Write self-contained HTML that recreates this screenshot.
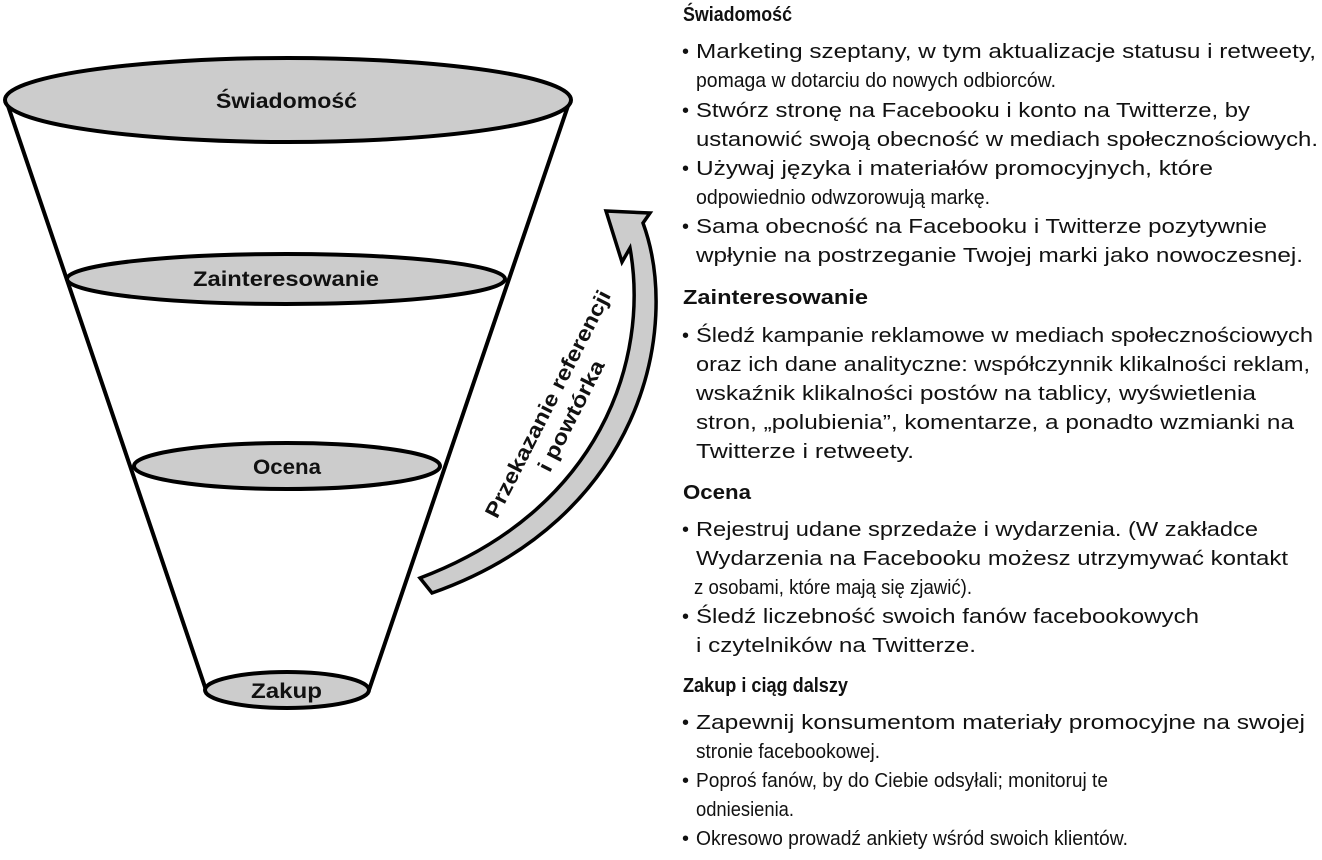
<!DOCTYPE html>
<html><head><meta charset="utf-8"><style>
html,body{margin:0;padding:0;background:#fff}
svg{display:block}
text{font-family:"Liberation Sans","DejaVu Sans",sans-serif;fill:#111}
.b{font-size:20px}
.h{font-size:20px;font-weight:bold}
.l{font-size:21px;font-weight:bold}
</style></head><body>
<svg width="1322" height="860" viewBox="0 0 1322 860" xmlns="http://www.w3.org/2000/svg">
<g stroke="#000" stroke-width="4" fill="none">
<line x1="6" y1="100" x2="206" y2="690"/>
<line x1="570" y1="100" x2="369" y2="690"/>
</g>
<g stroke="#000" stroke-width="4" fill="#cccccc">
<ellipse cx="288" cy="100" rx="283" ry="42"/>
<ellipse cx="286" cy="279" rx="219" ry="25"/>
<ellipse cx="287" cy="466" rx="153" ry="23"/>
<ellipse cx="287" cy="690" rx="82" ry="18"/>
<path d="M643,223 C682,330 640,520 432,593 L420,578 C600,510 650,360 630,248 L622,262 L606,211 L650,213 Z" stroke-width="3.5" stroke-linejoin="miter"/>
</g>
<text class="l" x="216" y="108" textLength="141" lengthAdjust="spacingAndGlyphs">Świadomość</text>
<text class="l" x="193" y="286" textLength="186" lengthAdjust="spacingAndGlyphs">Zainteresowanie</text>
<text class="l" x="253" y="474" textLength="68" lengthAdjust="spacingAndGlyphs">Ocena</text>
<text class="l" x="251" y="698" textLength="71" lengthAdjust="spacingAndGlyphs">Zakup</text>
<g transform="translate(548,404) rotate(-63)">
<text class="l" x="0" y="7" text-anchor="middle" textLength="252" lengthAdjust="spacingAndGlyphs">Przekazanie referencji</text>
<text class="l" x="0" y="33" text-anchor="middle" textLength="122" lengthAdjust="spacingAndGlyphs">i powtórka</text>
</g>
<g>
<text class="h" x="683" y="21" textLength="109" lengthAdjust="spacingAndGlyphs">Świadomość</text>
<text class="b" x="682" y="58">•</text><text class="b" x="696" y="58" textLength="620" lengthAdjust="spacingAndGlyphs">Marketing szeptany, w tym aktualizacje statusu i retweety,</text>
<text class="b" x="696" y="87" textLength="360" lengthAdjust="spacingAndGlyphs">pomaga w dotarciu do nowych odbiorców.</text>
<text class="b" x="682" y="117">•</text><text class="b" x="696" y="117" textLength="554" lengthAdjust="spacingAndGlyphs">Stwórz stronę na Facebooku i konto na Twitterze, by</text>
<text class="b" x="696" y="146" textLength="622" lengthAdjust="spacingAndGlyphs">ustanowić swoją obecność w mediach społecznościowych.</text>
<text class="b" x="682" y="175">•</text><text class="b" x="696" y="175" textLength="517" lengthAdjust="spacingAndGlyphs">Używaj języka i materiałów promocyjnych, które</text>
<text class="b" x="696" y="204" textLength="294" lengthAdjust="spacingAndGlyphs">odpowiednio odwzorowują markę.</text>
<text class="b" x="682" y="233">•</text><text class="b" x="696" y="233" textLength="571" lengthAdjust="spacingAndGlyphs">Sama obecność na Facebooku i Twitterze pozytywnie</text>
<text class="b" x="696" y="262" textLength="607" lengthAdjust="spacingAndGlyphs">wpłynie na postrzeganie Twojej marki jako nowoczesnej.</text>

<text class="h" x="683" y="304" textLength="185" lengthAdjust="spacingAndGlyphs">Zainteresowanie</text>
<text class="b" x="682" y="342">•</text><text class="b" x="696" y="342" textLength="617" lengthAdjust="spacingAndGlyphs">Śledź kampanie reklamowe w mediach społecznościowych</text>
<text class="b" x="696" y="371" textLength="614" lengthAdjust="spacingAndGlyphs">oraz ich dane analityczne: współczynnik klikalności reklam,</text>
<text class="b" x="696" y="400" textLength="560" lengthAdjust="spacingAndGlyphs">wskaźnik klikalności postów na tablicy, wyświetlenia</text>
<text class="b" x="696" y="429" textLength="598" lengthAdjust="spacingAndGlyphs">stron, „polubienia”, komentarze, a ponadto wzmianki na</text>
<text class="b" x="696" y="458" textLength="218" lengthAdjust="spacingAndGlyphs">Twitterze i retweety.</text>

<text class="h" x="683" y="499" textLength="68" lengthAdjust="spacingAndGlyphs">Ocena</text>
<text class="b" x="682" y="536">•</text><text class="b" x="696" y="536" textLength="562" lengthAdjust="spacingAndGlyphs">Rejestruj udane sprzedaże i wydarzenia. (W zakładce</text>
<text class="b" x="696" y="565" textLength="592" lengthAdjust="spacingAndGlyphs">Wydarzenia na Facebooku możesz utrzymywać kontakt</text>
<text class="b" x="694" y="594" textLength="278" lengthAdjust="spacingAndGlyphs">z osobami, które mają się zjawić).</text>
<text class="b" x="682" y="623">•</text><text class="b" x="696" y="623" textLength="503" lengthAdjust="spacingAndGlyphs">Śledź liczebność swoich fanów facebookowych</text>
<text class="b" x="696" y="652" textLength="280" lengthAdjust="spacingAndGlyphs">i czytelników na Twitterze.</text>

<text class="h" x="683" y="692" textLength="165" lengthAdjust="spacingAndGlyphs">Zakup i ciąg dalszy</text>
<text class="b" x="682" y="729">•</text><text class="b" x="696" y="729" textLength="609" lengthAdjust="spacingAndGlyphs">Zapewnij konsumentom materiały promocyjne na swojej</text>
<text class="b" x="696" y="758" textLength="184" lengthAdjust="spacingAndGlyphs">stronie facebookowej.</text>
<text class="b" x="682" y="787">•</text><text class="b" x="696" y="787" textLength="412" lengthAdjust="spacingAndGlyphs">Poproś fanów, by do Ciebie odsyłali; monitoruj te</text>
<text class="b" x="696" y="816" textLength="98" lengthAdjust="spacingAndGlyphs">odniesienia.</text>
<text class="b" x="682" y="845">•</text><text class="b" x="696" y="845" textLength="432" lengthAdjust="spacingAndGlyphs">Okresowo prowadź ankiety wśród swoich klientów.</text>
</g>
</svg>
</body></html>
